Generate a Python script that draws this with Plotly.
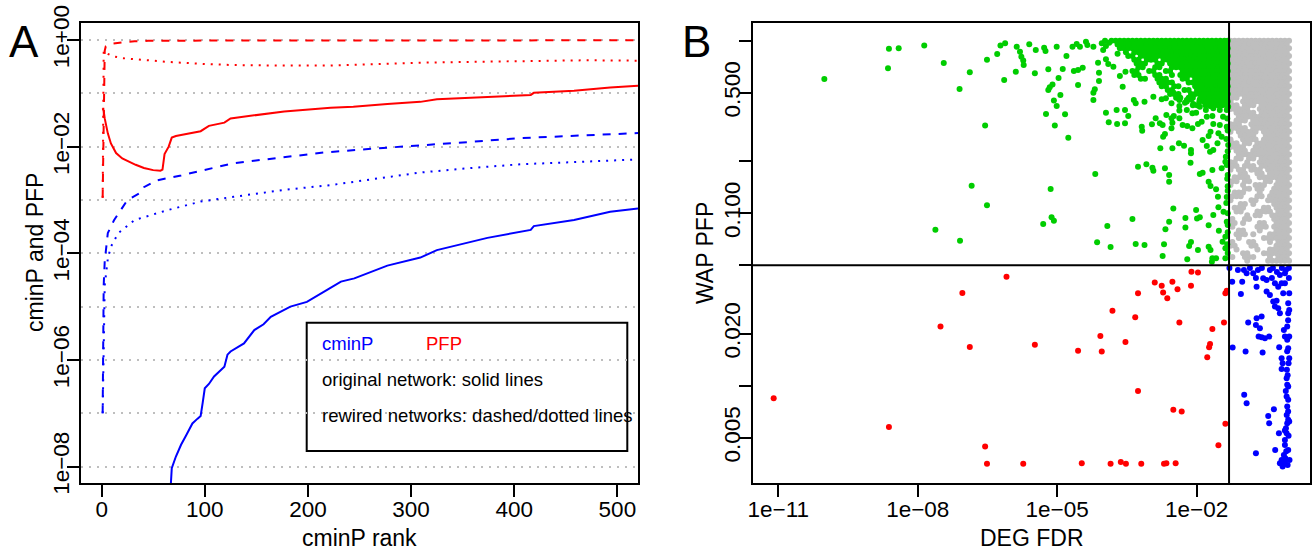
import plotly.graph_objects as go

FONT = "Liberation Sans, Arial, Helvetica, sans-serif"
RED = "#FF0000"
BLUE = "#0000FF"
GREEN = "#00CD00"
GREY = "#BEBEBE"

# ------------------------------------------------------------------
# Panel A: cminP and PFP along the cminP rank (values stored as log10)
# ------------------------------------------------------------------
# PFP, original network (solid red)
pfp_orig_rank = [1, 2, 3, 4, 6, 9, 14, 20, 25, 33, 41, 50, 57, 59, 61, 63, 65, 68, 72, 77,
                 85, 96, 104, 119, 125, 148, 177, 222, 244, 277, 309, 325, 374, 416, 419,
                 458, 493, 520]
pfp_orig_log10 = [-1.28, -1.33, -1.47, -1.58, -1.75, -1.94, -2.12, -2.22, -2.27, -2.34,
                  -2.40, -2.44, -2.45, -2.43, -2.14, -2.07, -2.00, -1.83, -1.80, -1.78,
                  -1.75, -1.71, -1.61, -1.55, -1.47, -1.41, -1.34, -1.27, -1.25, -1.20,
                  -1.16, -1.11, -1.06, -1.03, -0.99, -0.95, -0.89, -0.86]

# PFP, rewired networks (dashed and dotted red)
pfp_dash_rank = [1, 2, 3, 4, 6, 10, 16, 24, 32, 45, 70, 100, 150, 200, 250, 300, 350, 400, 450, 520]
pfp_dash_log10 = [-2.96, -1.30, -0.20, -0.12, -0.094, -0.07, -0.05, -0.035, -0.024, -0.015,
                  -0.012, -0.010, -0.012, -0.008, -0.009, -0.007, -0.008, -0.006, -0.006, -0.005]
pfp_dot_rank = [1, 2, 3, 5, 10, 20, 32, 64, 100, 128, 177, 222, 261, 309, 357, 406, 470, 520]
pfp_dot_log10 = [-2.96, -0.22, -0.20, -0.25, -0.30, -0.34, -0.36, -0.41, -0.45, -0.47, -0.48,
                 -0.48, -0.455, -0.425, -0.41, -0.394, -0.38, -0.388]

# cminP, original network (solid blue)
cminp_orig_rank = [66, 67, 68, 72, 77, 82, 88, 93, 96, 98, 100, 104, 109, 119, 122, 125, 138,
                   148, 157, 164, 183, 199, 209, 219, 232, 245, 277, 309, 325, 374, 416, 419,
                   458, 493, 520]
cminp_orig_log10 = [-8.70, -8.31, -8.03, -7.81, -7.59, -7.41, -7.19, -7.10, -7.05, -6.80,
                    -6.53, -6.45, -6.31, -6.125, -5.90, -5.84, -5.69, -5.44, -5.33, -5.19,
                    -5.00, -4.91, -4.80, -4.68, -4.53, -4.47, -4.23, -4.08, -3.94, -3.71,
                    -3.56, -3.49, -3.375, -3.22, -3.16]

# cminP, rewired networks (dashed and dotted blue)
cminp_dash_rank = [1, 2, 3, 4, 6, 12, 25, 38, 41, 54, 77, 128, 177, 215, 261, 309, 358, 406, 470, 520]
cminp_dash_log10 = [-7.00, -4.60, -4.15, -4.00, -3.62, -3.38, -3.00, -2.86, -2.76, -2.63,
                    -2.54, -2.31, -2.19, -2.11, -2.04, -1.98, -1.91, -1.84, -1.78, -1.745]
cminp_dot_rank = [1, 3, 6, 9, 16, 32, 64, 96, 128, 177, 222, 261, 309, 358, 406, 470, 520]
cminp_dot_log10 = [-7.00, -4.60, -4.10, -3.875, -3.625, -3.375, -3.19, -3.03, -2.94, -2.81,
                   -2.72, -2.61, -2.485, -2.40, -2.33, -2.28, -2.24]

rank_ticks = [0, 100, 200, 300, 400, 500]
a_major = [1, 1e-2, 1e-4, 1e-6, 1e-8]
a_major_text = ["1e+00", "1e\u221202", "1e\u221204", "1e\u221206", "1e\u221208"]
a_minor = [1e-1, 1e-3, 1e-5, 1e-7]

# ------------------------------------------------------------------
# Panel B: DEG FDR vs WAP PFP (log10 FDR, log10 PFP)
# ------------------------------------------------------------------
fdr_cutoff = 0.05
pfp_cutoff = 0.05

# genes with FDR < 0.05 and PFP >= 0.05 (isolated points)
green_fdr_log10 = [
    -10.01, -8.62, -8.41, -8.64, -7.86, -7.44, -7.10, -6.88, -6.51, -6.55, -6.84, -6.51, -7.62, -7.09,
    -6.29, -6.22, -6.12, -5.87, -5.80, -5.77, -5.73, -5.72, -5.89, -6.14, -5.60, -5.46, -5.28, -5.25,
    -5.01, -5.48, -5.19, -4.88, -4.97, -5.16, -5.19, -5.10, -4.93, -5.07, -5.01, -5.24, -4.83, -5.05,
    -4.76, -4.80, -4.67, -4.58, -4.51, -4.38, -4.35, -4.64, -4.55, -4.45, -4.55, -4.22, -4.12, -4.22,
    -4.19, -4.22, -4.10, -4.10, -4.04, -3.97, -4.01, -3.95, -3.90, -3.79, -3.95, -3.89, -3.72, -3.71,
    -3.54, -3.54, -3.47, -3.59, -3.65, -3.53, -4.18, -5.14, -5.30, -5.12, -5.07, -3.92, -4.14, -3.85,
    -3.38, -3.31, -3.12, -2.73, -2.70, -2.67, -2.59, -2.50, -2.24, -2.24, -2.20, -2.16, -2.12, -2.01,
    -1.99, -1.93, -1.97, -1.74, -1.74, -1.70, -1.64, -1.66, -1.58, -1.52, -1.53, -1.44, -1.38, -1.38,
    -1.38, -1.67, -3.26, -3.08, -2.95, -2.93, -2.68, -2.59, -2.59, -2.13, -1.93, -1.87, -1.74, -1.66,
    -1.70, -1.58, -1.54, -1.46, -1.37, -1.38, -2.78, -2.72, -2.68, -2.52, -2.38, -2.27, -2.12, -2.12,
    -1.87, -1.78, -1.71, -1.64, -1.55, -1.46, -1.32, -1.74, -1.70, -1.64, -1.50, -1.35, -1.53, -1.43,
    -1.32, -1.35, -3.18, -3.17, -2.96, -2.88, -2.79, -2.73, -2.54, -2.52, -2.54, -2.37, -2.30, -2.20,
    -2.09, -1.97, -1.89, -1.78, -1.66, -2.65, -2.49, -2.37, -2.21, -2.09, -2.01, -1.93, -1.80, -1.64,
    -1.50, -3.35, -3.31, -3.12, -2.93, -2.75, -2.66, -2.54, -2.37, -2.37, -2.21, -2.07, -1.93, -1.78,
    -1.71, -1.55, -1.43, -1.33, -1.35, -1.33, -1.42, -1.33, -1.34, -1.33, -1.36, -1.33, -1.35, -1.34,
    -1.33, -1.36, -1.33, -1.35, -1.33, -1.34, -1.33,
    -3.88, -3.95, -3.70, -2.50, -2.40, -2.25, -2.12]
green_pfp_log10 = [
    -0.221, -0.046, -0.043, -0.159, -0.028, -0.129, -0.279, -0.183, -0.110, -0.492, -0.840, -0.954,
    -1.095, -1.159, -0.077, -0.028, -0.014, -0.034, -0.063, -0.092, -0.115, -0.140, -0.179, -0.227,
    -0.020, -0.053, -0.040, -0.059, -0.034, -0.188, -0.165, -0.163, -0.216, -0.270, -0.286, -0.254,
    -0.314, -0.347, -0.378, -0.424, -0.426, -0.492, -0.562, -0.088, -0.034, -0.019, -0.034, -0.005,
    -0.024, -0.175, -0.169, -0.156, -0.256, -0.034, -0.127, -0.301, -0.281, -0.343, -0.185, -0.233,
    -0.014, 0.0, -0.053, -0.107, -0.134, -0.150, -0.417, -0.472, -0.401, -0.482, -0.401, -0.478,
    -0.436, -0.266, -0.204, -0.179, -0.772, -0.859, -1.062, -1.023, -1.043, -1.074, -1.168, -1.195,
    -1.033, -1.178, -1.184, -1.248, -1.180, -1.093, -1.049, -0.973, -1.027, -1.083, -1.267, -1.190,
    -1.166, -0.981, -1.031, -1.023, -1.213, -1.070, -1.194, -1.213, -1.010, -1.261, -1.261, -1.101,
    -0.965, -1.165, -1.136, -1.203, -1.261, -1.281, -0.730, -0.716, -0.736, -0.753, -0.739, -0.778,
    -0.817, -0.707, -0.772, -0.765, -0.817, -0.749, -0.842, -0.861, -0.904, -0.739, -0.672, -0.701,
    -0.623, -0.556, -0.540, -0.623, -0.594, -0.608, -0.633, -0.652, -0.575, -0.610, -0.643, -0.633,
    -0.594, -0.556, -0.604, -0.552, -0.527, -0.482, -0.488, -0.498, -0.536, -0.440, -0.382, -0.401,
    -0.498, -0.521, -0.484, -0.449, -0.478, -0.488, -0.449, -0.475, -0.507, -0.449, -0.488, -0.494,
    -0.507, -0.482, -0.469, -0.440, -0.436, -0.430, -0.436, -0.405, -0.401, -0.420, -0.417, -0.382,
    -0.401, -0.391, -0.401, -0.343, -0.362, -0.353, -0.324, -0.339, -0.333, -0.362, -0.343, -0.378,
    -0.343, -0.366, -0.339, -0.343, -0.378, -0.362, -0.343, -0.843, -0.906, -0.778, -0.992, -1.068,
    -0.45, -0.52, -0.57, -0.64, -0.72, -0.80, -0.87, -0.94, -1.00, -1.05, -1.11, -1.18, -1.23,
    -0.012, -0.030, -0.075, -0.300, -0.330, -0.360, -0.340]

# crowded corner of significant genes: per PFP row, which FDR columns are occupied
green_cols_a = [-3.83, -3.74, -3.65, -3.56, -3.47, -3.38, -3.29, -3.20, -3.11, -3.02,
                -2.93, -2.84, -2.75, -2.66, -2.57, -2.48, -2.39, -2.30, -2.21, -2.12, -2.03,
                -1.94, -1.85, -1.76, -1.67, -1.58, -1.49, -1.40, -1.33]
green_cols_b = [-3.79, -3.70, -3.61, -3.52, -3.43, -3.34, -3.25, -3.16, -3.07, -2.98,
                -2.89, -2.80, -2.71, -2.62, -2.53, -2.44, -2.35, -2.26, -2.17, -2.08, -1.99,
                -1.90, -1.81, -1.72, -1.63, -1.54, -1.45, -1.36]
green_rows = [
    (0.000, "11111111111111111111111111111"),
    (-0.022, "0111111111111111111111111111"),
    (-0.044, "00111111111111111111111111111"),
    (-0.066, "0001011111111111111111111111"),
    (-0.088, "00001101111111111111111111111"),
    (-0.110, "0000011011101111111111111111"),
    (-0.132, "00000011100110111111111111111"),
    (-0.154, "0000001100110011111111111111"),
    (-0.176, "00000110011001100111111111111"),
    (-0.198, "0000011000110010111111111111"),
    (-0.220, "00000001100111000110111111111"),
    (-0.242, "0000000000011110001111111111"),
    (-0.264, "00000000000011011000111111111"),
    (-0.286, "0000000000000110011011111111"),
    (-0.308, "00000000000000111001111111111"),
    (-0.330, "0000000000000001101101111111"),
    (-0.352, "00000000000000000010011111111"),
    (-0.374, "0000000000000000000110111111"),
]

# non-significant genes (FDR >= 0.05, PFP >= 0.05): per PFP row, occupied FDR columns
grey_cols_a = [-1.27, -1.18, -1.09, -1.00, -0.91, -0.82, -0.73, -0.64, -0.55, -0.46, -0.37,
               -0.28, -0.19, -0.10, -0.01]
grey_cols_b = [-1.23, -1.14, -1.05, -0.96, -0.87, -0.78, -0.69, -0.60, -0.51, -0.42, -0.33,
               -0.24, -0.15, -0.06]
grey_rows = [
    (0.000, "111111111111111"), (-0.022, "111111111111111"), (-0.044, "111111111111111"),
    (-0.066, "111111111111111"), (-0.088, "111111111111111"), (-0.110, "111111111111111"),
    (-0.132, "111111111111111"), (-0.154, "111111111111111"), (-0.176, "111111111111111"),
    (-0.198, "111111111111111"), (-0.220, "111111111111111"), (-0.242, "111111111111111"),
    (-0.264, "111111111111111"),
    (-0.286, "111111111111111"), (-0.308, "111111111111111"), (-0.330, "110111111111111"),
    (-0.352, "100111111111111"), (-0.374, "110111011111111"), (-0.396, "111110011111111"),
    (-0.418, "011111011111111"), (-0.440, "001111111111111"), (-0.462, "011101111111111"),
    (-0.484, "111001111111111"), (-0.506, "111101111111111"), (-0.528, "101111101111111"),
    (-0.550, "001111001111111"), (-0.572, "100111101111111"), (-0.594, "110110111111111"),
    (-0.616, "111100111111111"), (-0.638, "011101111111111"), (-0.660, "001111111111111"),
    (-0.682, "011011011111111"), (-0.704, "110010011111111"), (-0.726, "110111011111111"),
    (-0.748, "101101110111111"), (-0.770, "001100110111111"), (-0.792, "011110011111111"),
    (-0.814, "110110001101111"), (-0.836, "100100111001111"), (-0.858, "000110110011111"),
    (-0.880, "011100010011111"), (-0.902, "111000110111111"), (-0.924, "100001100111111"),
    (-0.946, "001101000011111"), (-0.968, "011100001101111"), (-0.990, "011000111101111"),
    (-1.012, "000010110011111"), (-1.034, "100110000011111"), (-1.056, "110100011001111"),
    (-1.078, "100000111011111"), (-1.100, "001100010001111"), (-1.122, "011101000111111"),
    (-1.144, "001000001111111"), (-1.166, "100011000101111"), (-1.188, "110001100001111"),
    (-1.210, "010000100111111"), (-1.232, "000110001111111"), (-1.254, "100111000101111"),
    (-1.276, "000010000111111"),
]

# genes with FDR < 0.05 and PFP < 0.05
red_fdr_log10 = [-11.10, -8.62, -7.51, -7.04, -6.88, -6.55, -6.51, -6.09, -2.11, -1.97, -2.90,
                 -2.75, -2.52, -2.41, -2.12, -3.26, -2.72, -2.63, -3.81, -3.32, -2.37, -1.41,
                 -1.35, -1.38, -1.66, -4.07, -3.53, -5.48, -4.55, -4.04, -1.71, -1.73, -1.77,
                 -3.26, -2.50, -2.32, -1.38, -1.53, -5.73, -4.47, -3.85, -3.63, -3.52, -3.19,
                 -2.70, -2.65, -2.45]
red_pfp_log10 = [-2.072, -2.239, -1.657, -1.462, -1.775, -2.353, -2.452, -1.368, -1.339, -1.344,
                 -1.402, -1.420, -1.397, -1.441, -1.420, -1.464, -1.460, -1.493, -1.566, -1.603,
                 -1.634, -1.634, -1.449, -1.464, -1.671, -1.711, -1.746, -1.762, -1.797, -1.802,
                 -1.758, -1.777, -1.835, -2.030, -2.140, -2.150, -2.221, -2.345, -2.453, -2.449,
                 -2.453, -2.442, -2.452, -2.453, -2.453, -2.449, -2.449]

# genes with FDR >= 0.05 and PFP < 0.05
blue_fdr_log10 = [
    -1.233, -1.018, -1.046, -1.224, -0.945, -0.889, -0.708, -0.600, -0.723, -0.637, -0.600, -0.665,
    -0.529, -0.437, -0.579, -0.708, -0.493, -0.422, -0.351, -0.314, -0.243, -0.278, -0.207, -0.975,
    -0.923, -0.723, -0.458, -0.437, -0.336, -0.308, -0.228, -0.222, -0.170, -0.148, -0.170, -0.207,
    -0.170, -0.148, -0.099, -0.121, -0.099, -0.099, -0.062, -0.049, -0.028, -0.049, -0.028, -0.028,
    -0.049, -0.062, -0.006, -0.028, -0.049, -0.006, -0.099, -0.121, -0.049, -0.028, -0.006, -0.028,
    -0.006, -0.136, -0.099, -0.170, -0.243, -0.314, -0.493, -0.566, -0.781, -0.923, -0.207, -0.099,
    0.0, -0.028, -0.077, -0.006, -0.062, -0.056, -1.293, -1.110, -0.852, -0.680, -0.594, -0.422,
    -0.357, -0.271, -0.164, -0.077, -0.013, -0.013, -0.379, -0.723, -0.981, -0.03, -0.05, -0.02,
    -0.04, -0.08, -0.03, -0.06, -0.10, -0.02, -0.07, -0.12, -0.04, -0.15, -0.09]
blue_pfp_log10 = [
    -1.397, -1.397, -1.468, -1.779, -1.802, -1.634, -1.609, -1.599, -1.648, -1.667, -1.719, -1.715,
    -1.725, -1.715, -1.808, -1.426, -1.454, -1.474, -1.512, -1.541, -1.551, -1.507, -1.580, -2.053,
    -2.101, -2.391, -2.175, -2.217, -2.136, -2.372, -2.275, -1.777, -1.841, -1.870, -1.903, -2.449,
    -2.430, -2.469, -2.449, -2.401, -2.314, -2.343, -2.275, -2.217, -2.198, -2.121, -2.082, -2.005,
    -1.995, -1.957, -1.841, -1.783, -1.734, -1.715, -1.715, -1.677, -1.657, -1.580, -1.561, -1.522,
    -1.464, -1.464, -1.406, -1.406, -1.426, -1.406, -1.387, -1.377, -1.348, -1.348, -1.358, -1.348,
    -2.430, -2.372, -2.246, -2.208, -2.063, -1.908, -1.317, -1.329, -1.317, -1.329, -1.317, -1.329,
    -1.317, -1.340, -1.317, -1.329, -1.317, -1.375, -1.375, -1.375, -1.329, -1.62, -1.80, -1.87,
    -1.94, -2.03, -2.15, -2.17, -2.26, -2.29, -2.38, -2.44, -2.46, -2.45, -2.42]

fdr_ticks = [1e-11, 1e-8, 1e-5, 1e-2]
fdr_tick_text = ["1e\u221211", "1e\u221208", "1e\u221205", "1e\u221202"]
pfp_ticks = [1, 0.5, 0.2, 0.1, 0.05, 0.02, 0.01, 0.005]
pfp_tick_text = ["", "0.500", "", "0.100", "", "0.020", "", "0.005"]


def unlog(values):
    return [10 ** v for v in values]


def occupied(rows, cols_a, cols_b):
    """Turn per-row occupancy of the crowded regions into (FDR, PFP) points."""
    xs, ys = [], []
    for i, (ly, mask) in enumerate(rows):
        cols = cols_a if i % 2 == 0 else cols_b
        for c, m in zip(cols, mask):
            if m == "1":
                xs.append(10 ** c)
                ys.append(10 ** ly)
    return xs, ys


fig = go.Figure()

# ---- panel A lines ----
line_specs = [
    (pfp_dash_rank, pfp_dash_log10, RED, "8px,8px"),
    (pfp_dot_rank, pfp_dot_log10, RED, "2px,6px"),
    (pfp_orig_rank, pfp_orig_log10, RED, "solid"),
    (cminp_dash_rank, cminp_dash_log10, BLUE, "8px,8px"),
    (cminp_dot_rank, cminp_dot_log10, BLUE, "2px,6px"),
    (cminp_orig_rank, cminp_orig_log10, BLUE, "solid"),
]
for rank, vals, col, dash in line_specs:
    fig.add_trace(go.Scatter(x=rank, y=unlog(vals), mode="lines",
                             line=dict(color=col, width=2, dash=dash),
                             xaxis="x", yaxis="y", showlegend=False, hoverinfo="skip"))

# ---- panel B points ----
gx, gy = occupied(grey_rows, grey_cols_a, grey_cols_b)
fig.add_trace(go.Scatter(x=gx, y=gy, mode="markers", marker=dict(color=GREY, size=6, line_width=0),
                         xaxis="x2", yaxis="y2", showlegend=False, hoverinfo="skip"))

dx, dy = occupied(green_rows, green_cols_a, green_cols_b)
fig.add_trace(go.Scatter(x=unlog(green_fdr_log10) + dx, y=unlog(green_pfp_log10) + dy,
                         mode="markers", marker=dict(color=GREEN, size=6, line_width=0),
                         xaxis="x2", yaxis="y2", showlegend=False, hoverinfo="skip"))
fig.add_trace(go.Scatter(x=unlog(red_fdr_log10), y=unlog(red_pfp_log10), mode="markers",
                         marker=dict(color=RED, size=6, line_width=0),
                         xaxis="x2", yaxis="y2", showlegend=False, hoverinfo="skip"))
fig.add_trace(go.Scatter(x=unlog(blue_fdr_log10), y=unlog(blue_pfp_log10), mode="markers",
                         marker=dict(color=BLUE, size=6, line_width=0),
                         xaxis="x2", yaxis="y2", showlegend=False, hoverinfo="skip"))

# cut-off lines
fig.add_trace(go.Scatter(x=[fdr_cutoff, fdr_cutoff], y=[1e-4, 10], mode="lines",
                         line=dict(color="black", width=2), xaxis="x2", yaxis="y2",
                         showlegend=False, hoverinfo="skip"))
fig.add_trace(go.Scatter(x=[1e-14, 10], y=[pfp_cutoff, pfp_cutoff], mode="lines",
                         line=dict(color="black", width=2), xaxis="x2", yaxis="y2",
                         showlegend=False, hoverinfo="skip"))

W, H = 1312, 550


def px(x):
    return x / W


def py(y):
    return 1 - y / H


tick_font = dict(family=FONT, size=22.5, color="black")
axis_common = dict(showline=True, linewidth=2, linecolor="black", mirror=True,
                   ticks="outside", ticklen=12, tickwidth=2, tickcolor="black",
                   zeroline=False, tickfont=tick_font, automargin=False)

fig.update_layout(
    width=W, height=H,
    margin=dict(l=0, r=0, t=0, b=0, pad=0, autoexpand=False),
    paper_bgcolor="white", plot_bgcolor="white",
    showlegend=False,
    xaxis=dict(domain=[px(81), px(638)], range=[-20, 520], tickmode="array",
               tickvals=rank_ticks, showgrid=False, anchor="y", ticklabelstandoff=-7,
               **axis_common),
    yaxis=dict(domain=[py(483), py(23)], type="log", range=[-8.307, 0.319], tickmode="array",
               tickvals=a_major, ticktext=a_major_text, tickangle=-90, anchor="x",
               ticklabelstandoff=-11,
               showgrid=True, gridcolor=GREY, gridwidth=2, griddash="2px,6px",
               minor=dict(tickmode="array", tickvals=a_minor, ticks="", showgrid=True,
                          gridcolor=GREY, gridwidth=2, griddash="2px,6px"),
               **axis_common),
    xaxis2=dict(domain=[px(753), px(1310)], type="log", range=[-11.545, 0.441],
                tickmode="array", tickvals=fdr_ticks, ticktext=fdr_tick_text,
                showgrid=False, anchor="y2", ticklabelstandoff=-7, **axis_common),
    yaxis2=dict(domain=[py(483), py(23)], type="log", range=[-2.564, 0.103],
                tickmode="array", tickvals=pfp_ticks, ticktext=pfp_tick_text, tickangle=-90,
                showgrid=False, anchor="x2", ticklabelstandoff=-10, **axis_common),
)

# legend box of panel A
fig.add_shape(type="rect", xref="paper", yref="paper",
              x0=px(306.7), x1=px(627.3), y0=py(451), y1=py(322.7),
              line=dict(color="black", width=2), fillcolor="white", layer="between")


def label(text, x, y, size, color="black", angle=0, xanchor="center"):
    fig.add_annotation(text=text, x=x, y=y, xref="paper", yref="paper", showarrow=False,
                       xanchor=xanchor, yanchor="middle", textangle=angle,
                       font=dict(family=FONT, size=size, color=color))


label("A", px(24), py(41), 44)
label("B", px(696.5), py(41), 44)
label("cminP rank", px(359.5), py(537.5), 23)
label("DEG FDR", px(1031.5), py(537.5), 23)
label("cminP and PFP", px(35), py(253), 23, angle=-90)
label("WAP PFP", px(705), py(253), 23, angle=-90)

label("cminP", px(320), py(343), 18.5, color=BLUE, xanchor="left")
label("PFP", px(423.5), py(343), 18.5, color=RED, xanchor="left")
label("original network: solid lines", px(320), py(379), 18.5, xanchor="left")
label("rewired networks: dashed/dotted lines", px(320), py(415.5), 18.5, xanchor="left")

fig.write_html("out.html")
